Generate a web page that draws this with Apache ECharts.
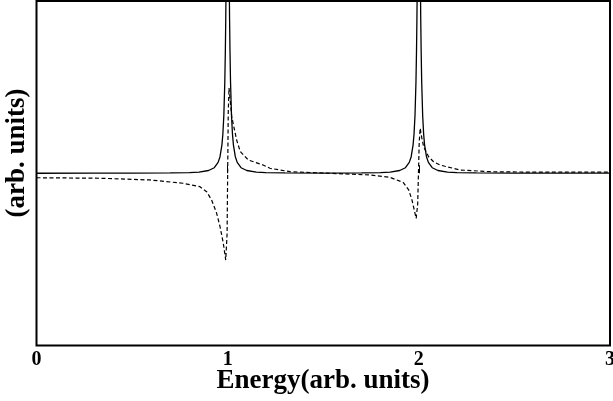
<!DOCTYPE html>
<html>
<head>
<meta charset="utf-8">
<script src="https://cdn.jsdelivr.net/npm/echarts@6/dist/echarts.min.js"></script>
<style>
html,body{margin:0;padding:0;background:#fff;}
#chart{width:613px;height:401px;}
</style>
</head>
<body>
<div id="chart"></div>
<script>
// x-axis tick labels
const xTickLabels = ['0', '1', '2', '3'];
const xTitle = 'Energy(arb. units)';
const yTitle = '(arb. units)';

// Solid curve (peaks at 1 and 2, clipped at the top)
const solidEnergy = [0, 0.3, 0.5, 0.7, 0.8, 0.85, 0.9, 0.93, 0.95, 0.96, 0.97, 0.975, 0.98, 0.985, 0.988, 0.99, 0.993, 0.996, 1.0,
  1.004, 1.007, 1.01, 1.012, 1.015, 1.02, 1.025, 1.03, 1.04, 1.05, 1.07, 1.1, 1.15, 1.2, 1.3, 1.5,
  1.7, 1.8, 1.85, 1.9, 1.93, 1.95, 1.96, 1.97, 1.975, 1.98, 1.985, 1.988, 1.99, 1.993, 1.996, 2.0,
  2.004, 2.007, 2.01, 2.012, 2.015, 2.02, 2.025, 2.03, 2.04, 2.05, 2.07, 2.1, 2.15, 2.2, 2.3, 2.5, 2.7, 3.0];
const solidValue = [0, 0.0005, 0.0007, 0.0018, 0.004, 0.007, 0.016, 0.032, 0.063, 0.096, 0.165, 0.229, 0.337, 0.53, 0.72, 0.895, 1.25, 1.67, 2.0,
  1.67, 1.25, 0.895, 0.72, 0.53, 0.337, 0.229, 0.165, 0.096, 0.063, 0.032, 0.016, 0.007, 0.004, 0.002, 0.0006,
  0.002, 0.004, 0.007, 0.016, 0.032, 0.063, 0.096, 0.165, 0.229, 0.337, 0.53, 0.72, 0.895, 1.25, 1.67, 2.0,
  1.67, 1.25, 0.895, 0.72, 0.53, 0.337, 0.229, 0.165, 0.096, 0.063, 0.032, 0.016, 0.007, 0.004, 0.002, 0.0007, 0.0004, 0.0002];

// Dashed curve (dispersive shape at 1 and 2)
const dashedEnergy = [0, 0.332, 0.594, 0.766, 0.855, 0.890, 0.916, 0.942, 0.960, 0.977, 0.990, 0.993, 0.997, 1.0, 1.003, 1.007,
  1.012, 1.021, 1.047, 1.066, 1.108, 1.117, 1.185, 1.221, 1.326, 1.535, 1.744, 1.849, 1.885, 1.919, 1.947, 1.964, 1.976, 1.986, 1.990,
  1.994, 1.998, 2.002, 2.007, 2.013, 2.025, 2.051, 2.077, 2.110, 2.215, 2.372, 2.633, 3.0];
const dashedValue = [-0.026, -0.029, -0.039, -0.058, -0.078, -0.107, -0.155, -0.231, -0.310, -0.405, -0.504, -0.515, -0.35, 0.0, 0.35, 0.495,
  0.44, 0.329, 0.193, 0.126, 0.077, 0.067, 0.048, 0.029, 0.009, 0.0, -0.010, -0.024, -0.039, -0.054, -0.097, -0.155, -0.213, -0.262, -0.272,
  -0.18, 0.0, 0.18, 0.261, 0.22, 0.154, 0.096, 0.067, 0.048, 0.019, 0.009, 0.006, 0.006];

const solidData = solidEnergy.map((e, i) => [e, solidValue[i]]);
const dashedData = dashedEnergy.map((e, i) => [e, dashedValue[i]]);

const chart = echarts.init(document.getElementById('chart'), null, {renderer: 'canvas'});
chart.setOption({
  animation: false,
  backgroundColor: '#fff',
  grid: {left: 36.5, right: 3, top: 1, bottom: 55.5, show: true, borderColor: '#000', borderWidth: 2,
         backgroundColor: 'transparent', containLabel: false, outerBoundsMode: 'none'},
  xAxis: {
    type: 'value', min: 0, max: 3, interval: 1,
    axisLine: {show: false},
    axisTick: {show: true, inside: true, length: 8, lineStyle: {color: '#000', width: 1}},
    splitLine: {show: false},
    axisLabel: {
      margin: 4,
      color: '#000', fontFamily: 'Liberation Serif', fontWeight: 'bold', fontSize: 20,
      formatter: v => xTickLabels[Math.round(v)]
    }
  },
  yAxis: {
    type: 'value', min: -1, max: 1, interval: 1,
    axisLine: {show: false},
    axisTick: {show: true, inside: true, length: 5, lineStyle: {color: '#000', width: 1}},
    splitLine: {show: false},
    axisLabel: {show: false}
  },
  graphic: [
    {type: 'text', position: [323, 381], style: {text: xTitle, fill: '#000', font: 'bold 27px "Liberation Serif"', textAlign: 'center', textVerticalAlign: 'middle'}},
    {type: 'text', rotation: Math.PI / 2, position: [17, 153], style: {text: yTitle, fill: '#000', font: 'bold 27px "Liberation Serif"', textAlign: 'center', textVerticalAlign: 'middle'}}
  ],
  series: [
    {type: 'line', data: solidData, showSymbol: false, symbol: 'none', clip: true,
     lineStyle: {color: '#000', width: 1.3}},
    {type: 'line', data: dashedData, showSymbol: false, symbol: 'none', clip: true,
     lineStyle: {color: '#000', width: 1.2, type: [4, 2.5]}}
  ]
});
</script>
</body>
</html>
